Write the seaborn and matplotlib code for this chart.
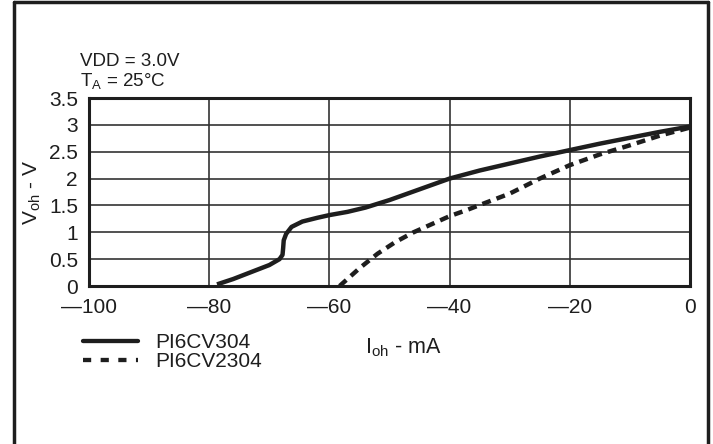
import matplotlib
matplotlib.use('Agg')
import matplotlib.pyplot as plt
import matplotlib.lines as mlines
import pandas as pd
import seaborn as sns

# curve PI6CV304 (solid)
pi304_ioh = [-78.7, -76, -73, -70, -68.3, -67.8, -67.7, -67.6, -67.2, -66.3, -64.5, -62, -60,
             -57, -54, -50, -45, -40, -35, -30, -25, -20, -15, -10, -5, 0]
pi304_voh = [0.03, 0.13, 0.26, 0.39, 0.5, 0.58, 0.7, 0.85, 0.97, 1.1, 1.2, 1.27, 1.32,
             1.38, 1.46, 1.6, 1.8, 2.0, 2.15, 2.28, 2.41, 2.53, 2.65, 2.76, 2.87, 2.97]

# curve PI6CV2304 (dashed)
pi2304_ioh = [-58.3, -57, -55, -52, -49, -46, -43, -40, -37, -34, -30, -25, -20, -15, -10, -5, 0]
pi2304_voh = [0.0, 0.13, 0.33, 0.6, 0.82, 1.0, 1.15, 1.3, 1.42, 1.55, 1.72, 2.0, 2.25, 2.45,
              2.62, 2.8, 2.95]

x_ticks = [-100, -80, -60, -40, -20, 0]
x_labels = ['\u2014100', '\u201480', '\u201460', '\u201440', '\u201420', '0']
y_ticks = [0, 0.5, 1, 1.5, 2, 2.5, 3, 3.5]
y_labels = ['0', '0.5', '1', '1.5', '2', '2.5', '3', '3.5']

sns.set_style('white')
plt.rcParams['font.family'] = ['Liberation Sans', 'DejaVu Sans']
plt.rcParams['mathtext.fontset'] = 'custom'
plt.rcParams['mathtext.rm'] = 'Liberation Sans'

df_a = pd.DataFrame({'ioh': pi304_ioh, 'voh': pi304_voh})
df_b = pd.DataFrame({'ioh': pi2304_ioh, 'voh': pi2304_voh})

fig = plt.figure(figsize=(7.13, 4.44), dpi=100)
ax = fig.add_axes([89 / 713, 1 - 286 / 444, 601 / 713, 188 / 444])

ink = '#1e1e1e'
sns.lineplot(data=df_a, x='ioh', y='voh', sort=False, estimator=None, ax=ax,
             color=ink, linewidth=3.2, solid_capstyle='butt')
sns.lineplot(data=df_b, x='ioh', y='voh', sort=False, estimator=None, ax=ax,
             color=ink, linewidth=3.2, dashes=False)
ax.lines[-1].set_dashes((2.0, 1.4))
ax.lines[-1].set_dash_capstyle('butt')

ax.set_xlim(-100, 0)
ax.set_ylim(0, 3.5)
ax.set_xticks(x_ticks)
ax.set_xticklabels(x_labels, fontsize=15)
ax.set_yticks(y_ticks)
ax.set_yticklabels(y_labels, fontsize=15)
ax.tick_params(axis='x', length=0, pad=8.5, colors=ink)
ax.tick_params(axis='y', length=0, pad=8, colors=ink)
ax.grid(True, color='#333333', linewidth=1.2)
for s in ax.spines.values():
    s.set_color(ink)
    s.set_linewidth(2.2)
ax.set_xlabel('')
ax.set_ylabel('V$_{\\mathregular{oh}}$ - V', fontsize=15, color=ink, labelpad=4.5)

fig.text(80 / 713, 1 - 66 / 444, 'VDD = 3.0V', fontsize=13.5, color=ink, va='baseline')
fig.text(80 / 713, 1 - 86.5 / 444, 'T$_{\\mathregular{A}}$ = 25\u00b0C', fontsize=13.5, color=ink,
         va='baseline')
fig.text(365 / 713, 1 - 353 / 444, 'I$_{\\mathregular{oh}}$ - mA', fontsize=15.5, color=ink,
         va='baseline')

h1 = mlines.Line2D([], [], color=ink, linewidth=3.1)
h2 = mlines.Line2D([], [], color=ink, linewidth=3.1, dashes=(1.9, 2.2))
fig.legend([h1, h2], ['PI6CV304', 'PI6CV2304'], loc='upper left',
           bbox_to_anchor=(83 / 713, 1 - 333 / 444), frameon=False, fontsize=15,
           handlelength=2.65, handleheight=0.5, handletextpad=0.8, labelspacing=0.0,
           borderpad=0, borderaxespad=0, labelcolor=ink)

# outer frame
fig.add_artist(mlines.Line2D([14 / 713, 14 / 713], [0, 1 - 2 / 444], color=ink, linewidth=2.5,
                             transform=fig.transFigure))
fig.add_artist(mlines.Line2D([708 / 713, 708 / 713], [0, 1 - 2 / 444], color=ink, linewidth=2.5,
                             transform=fig.transFigure))
fig.add_artist(mlines.Line2D([14 / 713, 708 / 713], [1 - 2 / 444, 1 - 2 / 444], color=ink,
                             linewidth=2.5, transform=fig.transFigure))

fig.savefig('out.png', dpi=100)
